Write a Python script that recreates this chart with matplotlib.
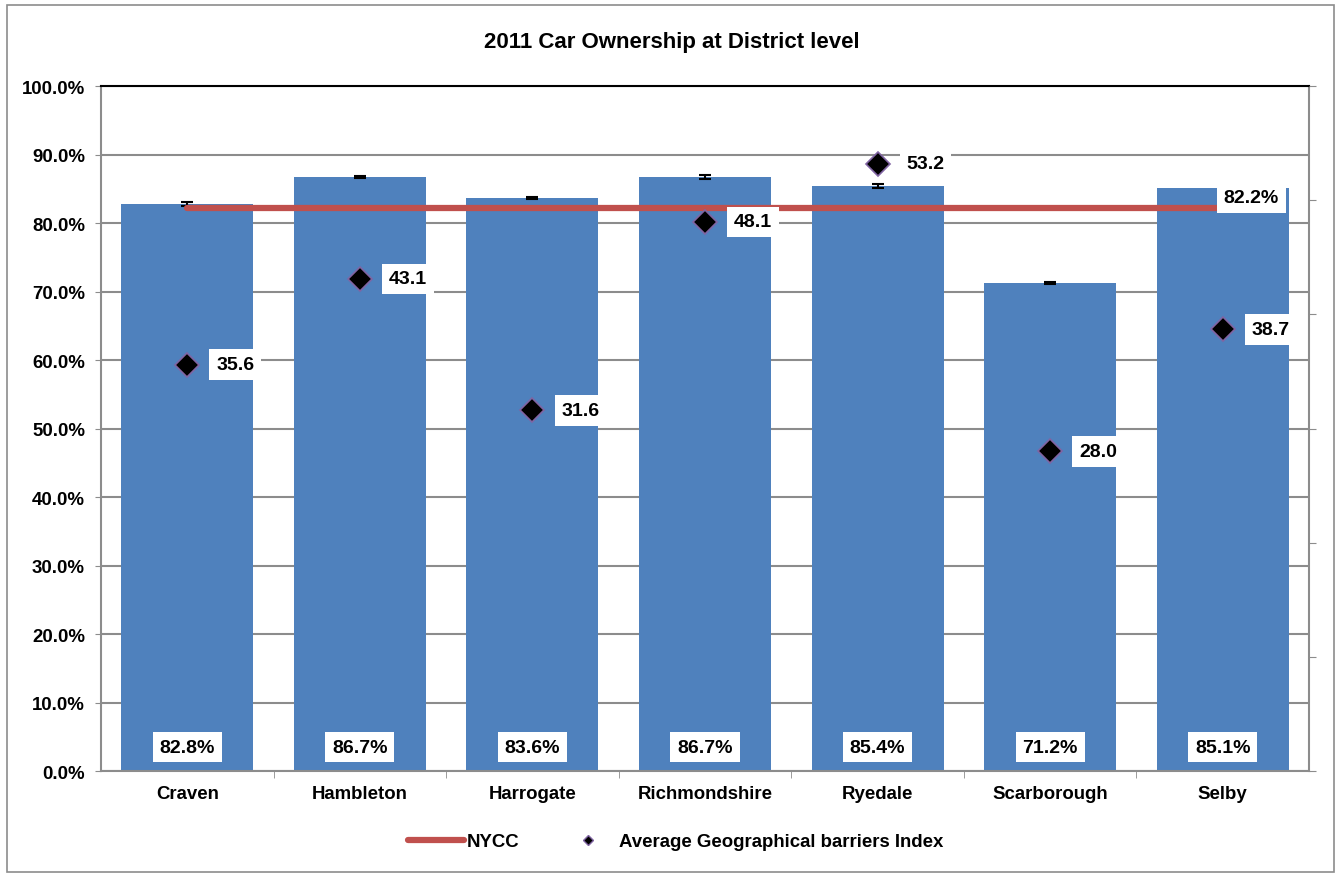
import numpy as np
import matplotlib
matplotlib.use("Agg")
import matplotlib.pyplot as plt
from matplotlib.patches import Rectangle
from matplotlib.lines import Line2D

plt.rcParams['font.family'] = ['Liberation Sans', 'DejaVu Sans']
plt.rcParams['font.weight'] = 'bold'

districts = ['Craven', 'Hambleton', 'Harrogate', 'Richmondshire', 'Ryedale', 'Scarborough', 'Selby']
car_own = [82.8, 86.7, 83.6, 86.7, 85.4, 71.2, 85.1]
car_err = [0.25, 0.2, 0.15, 0.25, 0.25, 0.15, 0.2]
barriers = [35.6, 43.1, 31.6, 48.1, 53.2, 28.0, 38.7]
nycc = 82.2

blue = '#4F81BD'
red = '#C0504D'
grid_c = '#8C8C8C'

fig = plt.figure(figsize=(13.43, 8.79), dpi=100)
ax = fig.add_axes([0.0752, 0.1217, 0.8995, 0.7793])

x = np.arange(len(districts))
ax.bar(x, car_own, width=0.765, color=blue, zorder=2)
ax.errorbar(x, car_own, yerr=car_err, fmt='none', ecolor='black', elinewidth=1.5,
            capsize=4.3, capthick=1.5, zorder=3)
ax.plot([x[0], x[-1]], [nycc, nycc], color=red, lw=4.5, solid_capstyle='round', zorder=4)

lab_fs = 14
bbox = dict(boxstyle='square,pad=0.35', fc='white', ec='none')
for xi, v in zip(x, car_own):
    ax.text(xi, 3.5, f'{v:.1f}%', ha='center', va='center', fontsize=lab_fs,
            fontweight='bold', bbox=bbox, zorder=5)
ax.annotate(f'{nycc:.1f}%', (x[-1], nycc), xytext=(1, 10), textcoords='offset pixels',
            ha='left', va='center', fontsize=lab_fs, fontweight='bold', bbox=bbox, zorder=6)

ax.set_xlim(-0.5, len(districts) - 0.5)
ax.set_ylim(0, 100)
ax.set_yticks(np.arange(0, 101, 10))
ax.set_yticklabels([f'{t:.1f}%' for t in np.arange(0, 101, 10)], fontsize=13.4, fontweight='bold')
ax.set_xticks(x)
ax.set_xticklabels(districts, fontsize=13.4, fontweight='bold')
ax.set_xticks(np.arange(0.5, len(districts) - 0.5, 1), minor=True)
ax.tick_params(axis='x', which='major', length=0, pad=10)
ax.tick_params(axis='x', which='minor', length=5, color=grid_c, direction='out')
ax.tick_params(axis='y', length=4.5, color=grid_c, pad=7)
ax.yaxis.grid(True, color=grid_c, lw=1.5, zorder=0)
ax.set_axisbelow(True)
for s in ['left', 'bottom', 'right']:
    ax.spines[s].set_color(grid_c)
    ax.spines[s].set_linewidth(1.5)
ax.spines['top'].set_color('black')
ax.spines['top'].set_linewidth(1.5)

ax2 = ax.twinx()
ax2.set_ylim(0, 60)
ax2.set_yticks(np.arange(0, 61, 10))
ax2.set_yticklabels([])
ax2.tick_params(axis='y', length=5, color=grid_c)
for s in ax2.spines.values():
    s.set_visible(False)
ax2.plot(x, barriers, linestyle='none', marker='D', markersize=12.5,
         markerfacecolor='black', markeredgecolor='#8064A2', markeredgewidth=1.2, zorder=5)
for xi, v in zip(x, barriers):
    ax2.annotate(f'{v:.1f}', (xi, v), xytext=(29, 0), textcoords='offset pixels',
                 ha='left', va='center', fontsize=lab_fs, fontweight='bold', bbox=bbox, zorder=6)

fig.text(0.5, 0.952, '2011 Car Ownership at District level', ha='center', va='center',
         fontsize=16, fontweight='bold')

handles = [Line2D([], [], color=red, lw=4.5, solid_capstyle='round'),
           Line2D([], [], linestyle='none', marker='D', markersize=5,
                  markerfacecolor='black', markeredgecolor='#8064A2', markeredgewidth=1)]
fig.legend(handles, ['NYCC', 'Average Geographical barriers Index'], loc='center',
           bbox_to_anchor=(0.503, 0.041), ncol=2, frameon=False, fontsize=13.4,
           handlelength=3.0, handletextpad=0.15, columnspacing=2.2)

fig.add_artist(Rectangle((0.005, 0.007), 0.988, 0.986, transform=fig.transFigure,
                         fill=False, ec='#8C8C8C', lw=1.2))

fig.savefig('out.png', dpi=100)
